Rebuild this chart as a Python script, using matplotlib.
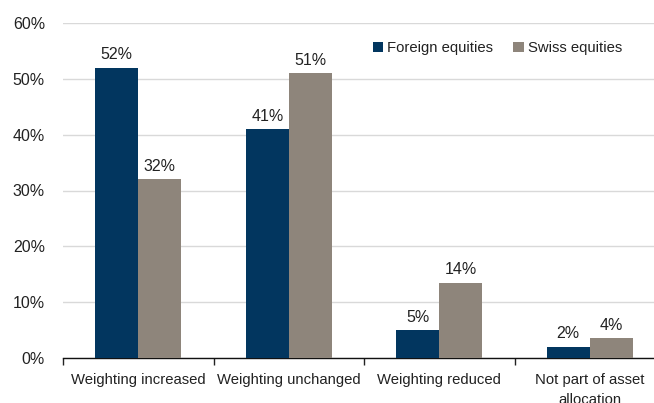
import matplotlib
matplotlib.use("Agg")
import matplotlib.pyplot as plt
import numpy as np

categories = ["Weighting increased", "Weighting unchanged", "Weighting reduced", "Not part of asset\nallocation"]
foreign = [52, 41, 5, 2]
swiss = [32, 51, 13.5, 3.5]
foreign_labels = ["52%", "41%", "5%", "2%"]
swiss_labels = ["32%", "51%", "14%", "4%"]
yticks = [0, 10, 20, 30, 40, 50, 60]

plt.rcParams['font.family'] = ['Liberation Sans', 'DejaVu Sans']
txt = "#222222"
fig = plt.figure(figsize=(6.54, 4.03), dpi=100)
ax = fig.add_axes([63/654, 1-358/403, (665-63)/654, (358-23)/403])

x = np.arange(len(categories))
w = 0.285
c1 = "#02365f"
c2 = "#8e857b"
b1 = ax.bar(x - w/2, foreign, w, color=c1, label="Foreign equities", zorder=3)
b2 = ax.bar(x + w/2, swiss, w, color=c2, label="Swiss equities", zorder=3)
for rect, lab in zip(b1, foreign_labels):
    ax.annotate(lab, (rect.get_x() + rect.get_width()/2, rect.get_height()), xytext=(0, 4),
                textcoords="offset points", ha="center", va="bottom", fontsize=11.5, color=txt)
for rect, lab in zip(b2, swiss_labels):
    ax.annotate(lab, (rect.get_x() + rect.get_width()/2, rect.get_height()), xytext=(0, 4),
                textcoords="offset points", ha="center", va="bottom", fontsize=11.5, color=txt)

ax.set_xlim(-0.5, len(categories) - 0.5)
ax.set_ylim(0, 60)
ax.set_yticks(yticks)
ax.set_yticklabels([f"{t}%" for t in yticks], fontsize=11.5, color=txt)
ax.yaxis.grid(True, color="#d9d9d9", linewidth=1, zorder=0)
ax.tick_params(axis="y", length=0, pad=13)

ax.set_xticks(x)
ax.set_xticklabels(categories, fontsize=10.7, color=txt, linespacing=1.55)
ax.tick_params(axis="x", length=0, pad=11)
ax.set_xticks(np.arange(len(categories) + 1) - 0.5, minor=True)
ax.tick_params(axis="x", which="minor", length=5, width=1, color="#222222", direction="out")

for s in ["top", "right", "left"]:
    ax.spines[s].set_visible(False)
ax.spines["bottom"].set_color("#111111")
ax.spines["bottom"].set_linewidth(1)

leg = ax.legend(loc="upper left", bbox_to_anchor=(0.492, 0.985), ncol=2, frameon=False,
                fontsize=10.7, handlelength=0.7, handleheight=0.7, handletextpad=0.3,
                columnspacing=1.35, labelcolor=txt)

fig.savefig("out.png", dpi=100)
